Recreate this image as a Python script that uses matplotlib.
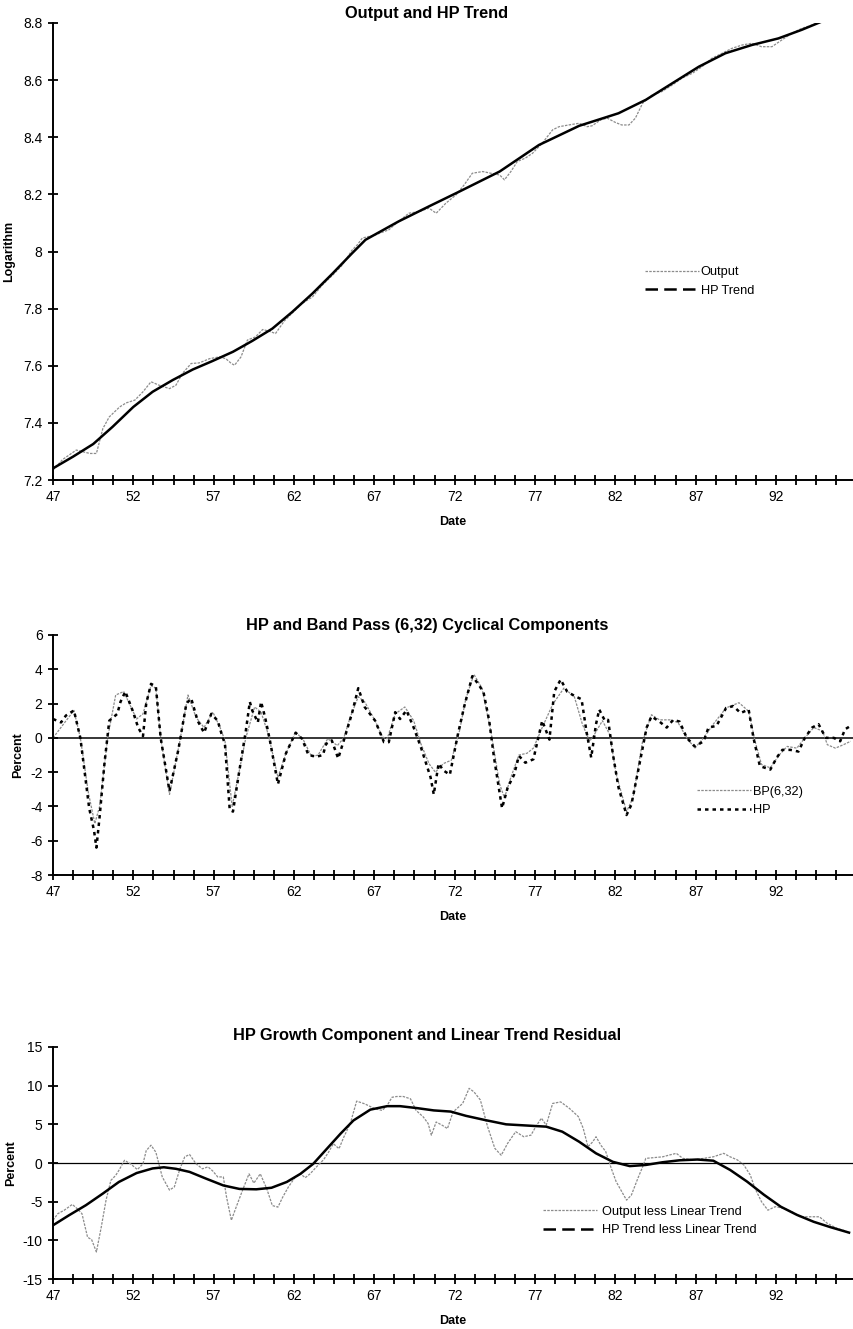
import matplotlib
matplotlib.use('Agg')
import matplotlib.pyplot as plt
from matplotlib.lines import Line2D
import numpy as np

plt.rcParams['font.family'] = ['Liberation Sans', 'DejaVu Sans']

# x axis labels (every 20 quarters), ticks every 5 quarters
x_labels = ['47', '52', '57', '62', '67', '72', '77', '82', '87', '92']

# ---- panel 1: log output and HP trend
out_yr = [47.0, 47.6, 48.45, 48.85, 49.3, 49.7, 50.1, 50.5, 51.15, 51.55, 52.1, 52.6, 53.1, 53.6,
          54.25, 54.65, 55.05, 55.6, 56.1, 56.75, 57.35, 57.75, 58.1, 58.3, 58.7, 59.1, 59.6, 60.05,
          60.45, 60.85, 61.4, 61.9, 62.5, 63.15, 63.75, 64.4, 65.0, 65.6, 65.95, 66.25, 67.1, 67.9,
          68.5, 69.15, 69.8, 70.4, 70.85, 71.45, 72.1, 72.6, 73.1, 73.75, 74.25, 74.8, 75.1, 75.5,
          75.9, 76.4, 76.85, 77.45, 78.1, 78.5, 79.1, 79.75, 80.25, 80.55, 81.1, 81.5, 82.0, 82.4,
          82.85, 83.25, 83.7, 84.3, 84.9, 85.55, 86.15, 86.8, 87.4, 88.0, 88.65, 89.25, 89.9, 90.5,
          91.1, 91.75, 92.35, 93.0, 93.6, 94.25, 94.85]
out_val = [7.235, 7.272, 7.305, 7.299, 7.293, 7.293, 7.38, 7.421, 7.456, 7.47, 7.48, 7.509, 7.544,
           7.532, 7.52, 7.532, 7.573, 7.608, 7.61, 7.625, 7.631, 7.625, 7.608, 7.602, 7.631, 7.69,
           7.701, 7.727, 7.721, 7.713, 7.757, 7.785, 7.818, 7.841, 7.882, 7.917, 7.952, 8.004, 8.024,
           8.047, 8.059, 8.076, 8.105, 8.134, 8.14, 8.152, 8.134, 8.169, 8.199, 8.234, 8.274, 8.28,
           8.274, 8.268, 8.251, 8.28, 8.315, 8.327, 8.344, 8.379, 8.426, 8.437, 8.443, 8.449, 8.437,
           8.44, 8.461, 8.467, 8.452, 8.443, 8.443, 8.467, 8.519, 8.548, 8.56, 8.583, 8.607, 8.624,
           8.647, 8.676, 8.694, 8.711, 8.723, 8.729, 8.717, 8.717, 8.74, 8.764, 8.781, 8.793, 8.805]

hpt_yr = [47.0, 48.25, 49.5, 50.7, 52.0, 53.2, 54.45, 55.7, 56.9, 58.2, 59.4, 60.65, 61.9, 63.15,
          64.4, 65.6, 66.45, 68.5, 70.4, 72.3, 74.8, 77.25, 79.75, 82.2, 83.9, 85.55, 87.2, 88.85,
          90.5, 92.15, 93.6, 94.85]
hpt_val = [7.241, 7.282, 7.326, 7.386, 7.456, 7.509, 7.55, 7.587, 7.616, 7.649, 7.687, 7.73, 7.789,
           7.853, 7.923, 7.993, 8.041, 8.105, 8.158, 8.21, 8.28, 8.373, 8.44, 8.484, 8.531, 8.589,
           8.647, 8.694, 8.723, 8.746, 8.776, 8.805]

# ---- panel 2: cyclical components (percent)
bp_yr = [47.0, 48.3, 48.7, 49.2, 49.6, 49.9, 50.4, 50.9, 51.4, 52.2, 52.6, 53.1, 53.4, 53.7, 54.25,
         54.9, 55.4, 55.9, 56.4, 56.95, 57.4, 57.7, 58.15, 58.6, 59.0, 59.55, 59.95, 60.4, 61.0,
         61.5, 62.1, 62.6, 63.1, 63.5, 64.1, 64.7, 65.1, 65.5, 66.0, 66.4, 67.05, 67.5, 67.8, 68.3,
         68.9, 69.45, 69.9, 70.4, 70.8, 71.3, 71.8, 72.3, 72.7, 73.2, 73.7, 74.25, 74.8, 75.1, 75.5,
         76.0, 76.5, 76.9, 77.45, 78.1, 78.8, 79.45, 79.95, 80.4, 80.7, 81.2, 81.65, 82.05, 82.7,
         83.1, 83.7, 84.25, 84.75, 85.4, 85.9, 86.45, 86.95, 87.5, 88.1, 88.9, 89.7, 90.3, 90.7,
         91.1, 91.65, 92.2, 92.7, 93.3, 93.8, 94.35, 94.9, 95.2, 95.7, 96.2, 96.65]
bp_val = [0.0, 1.6, 0.0, -3.2, -5.0, -4.0, 0.0, 2.5, 2.7, 1.1, 1.4, 3.05, 2.9, 0.0, -3.3, -0.15,
          2.5, 1.2, 0.6, 1.5, 0.6, -0.15, -4.0, -1.9, 0.0, 1.8, 1.5, 0.2, -2.3, -0.9, 0.35, -0.15,
          -1.1, -1.0, -0.05, -0.45, 0.0, 1.2, 2.4, 2.1, 1.0, 0.05, -0.05, 1.4, 1.8, 1.0, -0.35,
          -1.5, -2.0, -1.5, -1.3, 0.4, 2.3, 3.7, 2.9, 0.4, -2.7, -3.5, -2.3, -1.0, -0.9, -0.6, 0.6,
          1.95, 2.9, 2.4, 0.8, -0.2, 0.2, 1.0, 0.2, -2.1, -4.3, -3.5, -0.2, 1.35, 1.05, 1.05, 0.9,
          0.0, -0.6, 0.0, 0.8, 1.75, 2.05, 1.55, -0.2, -1.55, -1.75, -1.0, -0.5, -0.6, 0.0, 0.6,
          0.4, -0.4, -0.6, -0.4, -0.2]

hp_yr = [47.0, 47.5, 47.8, 48.3, 48.7, 49.25, 49.55, 49.7, 49.9, 50.2, 50.5, 51.0, 51.2, 51.5,
         51.95, 52.3, 52.6, 52.8, 53.1, 53.4, 53.7, 54.25, 54.8, 55.3, 55.6, 56.0, 56.4, 56.85,
         57.25, 57.5, 57.7, 58.0, 58.2, 58.6, 59.0, 59.25, 59.4, 59.75, 59.95, 60.2, 60.5, 61.0,
         61.5, 62.1, 62.5, 62.9, 63.4, 63.8, 64.0, 64.35, 64.75, 65.1, 65.6, 66.0, 66.4, 67.05,
         67.6, 67.9, 68.3, 68.6, 69.0, 69.45, 69.9, 70.5, 70.7, 71.0, 71.3, 71.7, 72.2, 72.6, 73.1,
         73.5, 73.8, 74.15, 74.45, 74.95, 75.3, 75.7, 76.0, 76.4, 76.9, 77.45, 77.9, 78.2, 78.6,
         79.0, 79.45, 79.9, 80.2, 80.5, 80.8, 81.0, 81.35, 81.55, 81.85, 82.2, 82.7, 83.0, 83.5,
         83.95, 84.25, 84.75, 85.2, 85.6, 86.0, 86.45, 86.95, 87.5, 87.8, 88.3, 88.9, 89.35, 89.8,
         90.3, 90.6, 91.0, 91.65, 92.05, 92.4, 92.9, 93.4, 93.8, 94.25, 94.65, 95.1, 95.6, 96.0,
         96.3, 96.65]
hp_val = [1.1, 0.9, 1.3, 1.6, 0.0, -4.1, -5.4, -6.4, -4.6, -1.5, 1.0, 1.4, 2.1, 2.7, 1.6, 0.6, 0.1,
          2.0, 3.15, 3.0, 0.0, -3.1, -0.7, 2.0, 2.3, 1.0, 0.3, 1.4, 1.0, 0.2, -0.35, -4.2, -4.3,
          -1.9, 0.4, 2.1, 1.6, 0.9, 2.1, 1.2, -0.15, -2.7, -0.9, 0.3, -0.05, -1.0, -1.1, -1.0,
          -0.35, -0.15, -1.2, -0.15, 1.4, 2.9, 1.8, 1.0, -0.25, -0.25, 1.5, 1.1, 1.6, 0.6, -0.55,
          -2.3, -3.3, -1.5, -1.9, -2.15, 0.2, 1.85, 3.6, 3.1, 2.65, 1.0, -1.15, -4.1, -2.9, -2.15,
          -1.05, -1.45, -1.25, 1.0, -0.1, 2.7, 3.4, 2.7, 2.45, 2.25, 0.4, -1.15, 0.8, 1.65, 1.0,
          1.05, -0.95, -2.9, -4.5, -3.9, -1.55, 0.6, 1.25, 0.95, 0.6, 1.05, 0.95, 0.0, -0.5, -0.2,
          0.6, 0.7, 1.75, 1.85, 1.45, 1.65, 0.0, -1.65, -1.85, -1.15, -0.7, -0.7, -0.8, 0.0, 0.6,
          0.8, 0.0, 0.0, -0.2, 0.5, 0.7]

# ---- panel 3: deviations from linear trend (percent)
res_yr = [47.0, 47.3, 47.7, 48.2, 48.5, 48.8, 49.15, 49.4, 49.7, 50.0, 50.3, 50.6, 50.9, 51.1,
          51.45, 51.85, 52.25, 52.6, 52.8, 53.1, 53.4, 53.8, 54.25, 54.55, 54.9, 55.2, 55.5, 55.9,
          56.3, 56.65, 56.95, 57.25, 57.6, 57.8, 58.1, 58.4, 58.8, 59.2, 59.5, 59.9, 60.3, 60.65,
          61.0, 61.3, 61.65, 62.05, 62.4, 62.7, 63.0, 63.4, 63.85, 64.15, 64.45, 64.8, 65.1, 65.5,
          65.9, 66.4, 67.05, 67.5, 67.8, 68.1, 68.4, 68.8, 69.25, 69.6, 70.05, 70.35, 70.55, 70.85,
          71.25, 71.55, 71.9, 72.5, 72.9, 73.2, 73.6, 74.05, 74.5, 74.9, 75.3, 75.8, 76.3, 76.75,
          77.05, 77.4, 77.7, 78.1, 78.6, 79.15, 79.7, 80.0, 80.3, 80.6, 80.8, 81.1, 81.4, 81.75,
          82.05, 82.4, 82.7, 83.0, 83.4, 83.7, 83.9, 84.45, 84.95, 85.4, 85.8, 86.2, 86.85, 87.5,
          88.1, 88.75, 89.15, 89.6, 90.0, 90.4, 90.7, 91.1, 91.5, 91.95, 92.5, 93.0, 93.5, 94.15,
          94.7, 95.2, 95.8, 96.35, 96.55]
res_val = [-7.4, -6.55, -6.1, -5.35, -5.9, -6.55, -9.6, -9.9, -11.5, -8.3, -4.8, -2.25, -1.6,
           -0.95, 0.35, -0.15, -0.85, -0.1, 1.6, 2.3, 1.4, -1.8, -3.5, -3.1, -0.75, 0.8, 1.1, -0.1,
           -0.75, -0.5, -1.05, -1.8, -1.8, -4.4, -7.4, -5.7, -3.5, -1.4, -2.6, -1.4, -3.3, -5.5,
           -5.7, -4.4, -3.1, -1.9, -1.4, -1.9, -1.4, -0.5, 0.45, 1.4, 2.5, 1.85, 3.35, 5.1, 8.0,
           7.65, 7.0, 6.8, 7.45, 8.5, 8.6, 8.6, 8.3, 6.8, 5.95, 5.1, 3.6, 5.3, 4.85, 4.45, 6.6, 7.7,
           9.65, 9.2, 8.15, 4.7, 1.9, 1.0, 2.55, 4.05, 3.4, 3.6, 4.7, 5.8, 4.9, 7.7, 7.9, 7.05, 6.0,
           4.5, 2.1, 2.75, 3.4, 2.3, 1.5, -0.7, -2.4, -3.7, -4.8, -4.15, -2.0, -0.5, 0.6, 0.7, 0.8,
           1.05, 1.25, 0.6, 0.4, 0.6, 0.8, 1.25, 0.8, 0.4, -0.25, -1.55, -3.3, -5.0, -6.1, -5.65,
           -5.85, -6.3, -6.95, -6.95, -6.95, -7.8, -8.45, -8.8, -9.1]

hpl_yr = [47.0, 48.0, 49.05, 50.1, 51.1, 52.2, 53.2, 53.9, 54.65, 55.5, 56.5, 57.6, 58.6, 59.65,
          60.6, 61.55, 62.4, 63.2, 64.05, 64.9, 65.7, 66.75, 67.8, 68.6, 69.65, 70.7, 71.75, 72.7,
          73.9, 75.2, 76.45, 77.7, 78.7, 79.75, 80.8, 81.85, 82.9, 83.9, 84.95, 86.0, 87.1, 88.1,
          89.15, 90.2, 91.25, 92.3, 93.3, 94.35, 95.4, 96.55]
hpl_val = [-8.05, -6.75, -5.45, -3.95, -2.45, -1.3, -0.7, -0.55, -0.75, -1.15, -2.0, -2.9, -3.35,
           -3.4, -3.2, -2.45, -1.4, -0.1, 1.85, 3.8, 5.5, 6.9, 7.35, 7.35, 7.1, 6.8, 6.65, 6.1,
           5.55, 5.0, 4.85, 4.7, 4.05, 2.75, 1.25, 0.15, -0.4, -0.25, 0.1, 0.35, 0.45, 0.3, -0.9,
           -2.4, -4.1, -5.65, -6.7, -7.6, -8.3, -9.0]

GRAY = '0.55'
GRAY_LS = (0, (2, 1))
HP_LS = (0, (1.4, 1.6))
TREND_LEG_LS = (0, (5, 2.5))


def style_axis(ax, yticks, ylabels, ylabel, label_x):
    ax.set_xlim(47, 96.8)
    ax.set_ylim(yticks[0], yticks[-1])
    for s in ['top', 'right']:
        ax.spines[s].set_visible(False)
    for s in ['left', 'bottom']:
        ax.spines[s].set_linewidth(1.4)
    ticks = np.arange(47, 96.8, 1.25)
    ax.set_xticks(ticks)
    ax.set_xticklabels([x_labels[i // 4] if i % 4 == 0 else '' for i in range(len(ticks))])
    ax.set_yticks(yticks)
    ax.set_yticklabels(ylabels)
    ax.tick_params(direction='inout', length=7, width=1.3, labelsize=10, pad=4)
    ax.set_xlabel('Date', fontsize=9, fontweight='bold', labelpad=8)
    ax.set_ylabel(ylabel, fontsize=9, fontweight='bold')
    ax.yaxis.set_label_coords(label_x, 0.5)


def add_legend(ax, handles, labels, anchor, textpad):
    ax.legend(handles, labels, loc='upper left', bbox_to_anchor=anchor,
              frameon=False, fontsize=9.2, handlelength=4.2, handletextpad=textpad,
              borderaxespad=0, borderpad=0, labelspacing=0.5)


fig = plt.figure(figsize=(8.54, 13.29), dpi=100)

# top panel
ax1 = fig.add_axes([0.0621, 0.6388, 0.9368, 0.3439])
ax1.plot(out_yr, out_val, color=GRAY, lw=0.9, ls=GRAY_LS)
ax1.plot(hpt_yr, hpt_val, color='black', lw=1.8)
style_axis(ax1, [7.2, 7.4, 7.6, 7.8, 8.0, 8.2, 8.4, 8.6, 8.8],
           ['7.2', '7.4', '7.6', '7.8', '8', '8.2', '8.4', '8.6', '8.8'], 'Logarithm', -0.047)
add_legend(ax1, [Line2D([], [], color=GRAY, lw=0.9, ls=GRAY_LS),
                 Line2D([], [], color='black', lw=1.8, ls=TREND_LEG_LS)],
           ['Output', 'HP Trend'], (0.74, 0.468), 0.15)

# middle panel
ax2 = fig.add_axes([0.0621, 0.3416, 0.9368, 0.1806])
ax2.axhline(0, color='black', lw=1.1)
ax2.plot(bp_yr, bp_val, color=GRAY, lw=0.9, ls=GRAY_LS)
ax2.plot(hp_yr, hp_val, color='black', lw=1.8, ls=HP_LS)
style_axis(ax2, [-8, -6, -4, -2, 0, 2, 4, 6],
           ['-8', '-6', '-4', '-2', '0', '2', '4', '6'], 'Percent', -0.036)
add_legend(ax2, [Line2D([], [], color=GRAY, lw=0.9, ls=GRAY_LS),
                 Line2D([], [], color='black', lw=1.8, ls=HP_LS)],
           ['BP(6,32)', 'HP'], (0.805, 0.371), 0.15)

# bottom panel
ax3 = fig.add_axes([0.0621, 0.0376, 0.9368, 0.1746])
ax3.axhline(0, color='black', lw=0.9)
ax3.plot(res_yr, res_val, color=GRAY, lw=0.9, ls=GRAY_LS)
ax3.plot(hpl_yr, hpl_val, color='black', lw=1.8)
style_axis(ax3, [-15, -10, -5, 0, 5, 10, 15],
           ['-15', '-10', '-5', '0', '5', '10', '15'], 'Percent', -0.045)
add_legend(ax3, [Line2D([], [], color=GRAY, lw=0.9, ls=GRAY_LS),
                 Line2D([], [], color='black', lw=1.8, ls=TREND_LEG_LS)],
           ['Output less Linear Trend', 'HP Trend less Linear Trend'], (0.6125, 0.315), 0.4)

fig.text(0.5, 0.9895, 'Output and HP Trend', ha='center', va='center',
         fontsize=11.8, fontweight='bold')
fig.text(0.5, 0.529, 'HP and Band Pass (6,32) Cyclical Components', ha='center', va='center',
         fontsize=11.8, fontweight='bold')
fig.text(0.5, 0.2212, 'HP Growth Component and Linear Trend Residual', ha='center', va='center',
         fontsize=11.8, fontweight='bold')

fig.savefig('out.png', dpi=100)
